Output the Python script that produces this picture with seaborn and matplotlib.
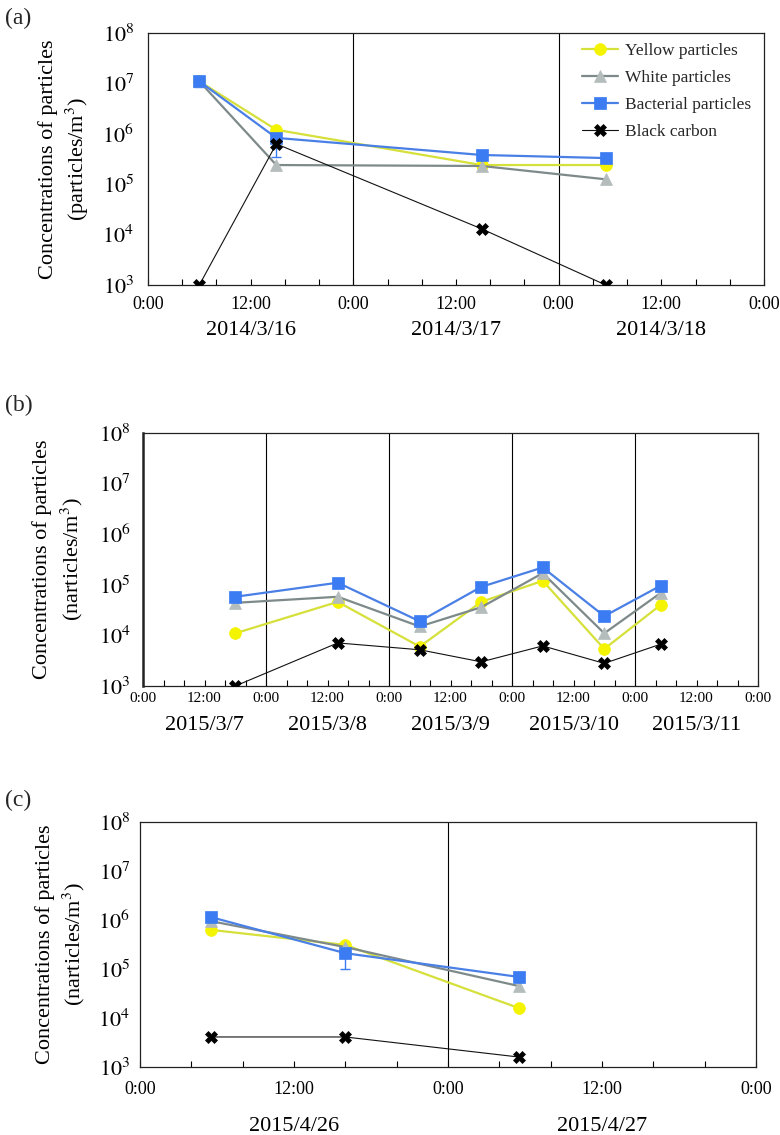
import numpy as np
import pandas as pd
import matplotlib
matplotlib.use("Agg")
import matplotlib.pyplot as plt
import seaborn as sns

sns.set_theme(style="white")
plt.rcParams['font.family'] = ['Liberation Serif', 'DejaVu Serif']
plt.rcParams['mathtext.fontset'] = 'stix'

# ---------------- data ----------------
series_names = ["Yellow particles", "White particles", "Bacterial particles", "Black carbon"]

# panel (a) 2014/3/16-18, hours from 2014/3/16 0:00
a_hours = [6, 15, 39, 53.5]
a_yellow = [1.1e7, 1.2e6, 2.4e5, 2.4e5]
a_white = [1.1e7, 2.4e5, 2.3e5, 1.25e5]
a_bact = [1.1e7, 8.3e5, 3.8e5, 3.3e5]
a_black = [1.0e3, 6.3e5, 1.3e4, 1.0e3]
a_bact_lo = [2.5e6, 4.8e5, 0, 0.5e5]
a_bact_hi = [0, 0, 0, 0.5e5]

# panel (b) 2015/3/7-11, hours from 2015/3/7 0:00
b_hours = [18, 38, 54, 66, 78, 90, 101]
b_yellow = [1.1e4, 4.6e4, 6.0e3, 4.6e4, 1.2e5, 5.4e3, 4.0e4]
b_white = [4.4e4, 5.8e4, 1.5e4, 3.6e4, 1.7e5, 1.1e4, 6.9e4]
b_bact = [5.8e4, 1.1e5, 1.9e4, 9.1e4, 2.2e5, 2.4e4, 9.6e4]
b_black = [1.0e3, 7.1e3, 5.2e3, 3.0e3, 6.2e3, 2.8e3, 6.7e3]

# panel (c) 2015/4/26-27, hours from 2015/4/26 0:00
c_hours = [5.5, 16, 29.5]
c_yellow = [6.3e5, 3.1e5, 1.6e4]
c_white = [9.5e5, 2.8e5, 4.5e4]
c_bact = [1.15e6, 2.1e5, 6.9e4]
c_black = [4.1e3, 4.1e3, 1.6e3]
c_bact_lo = [0, 1.1e5, 0]
c_bact_hi = [2.5e5, 0, 0]

a_dates = ["2014/3/16", "2014/3/17", "2014/3/18"]
b_dates = ["2015/3/7", "2015/3/8", "2015/3/9", "2015/3/10", "2015/3/11"]
c_dates = ["2015/4/26", "2015/4/27"]

# ---------------- styles ----------------
styles = {
    "Yellow particles": dict(color="#d6e03a", mfc="#f4f400", mec="#f4f400", marker="o", lw=1.6, ms=8.5),
    "White particles": dict(color="#7e8a8a", mfc="#b4bcbc", mec="#b4bcbc", marker="^", lw=1.6, ms=8.5),
    "Bacterial particles": dict(color="#4a80e6", mfc="#3b7cf2", mec="#3b7cf2", marker="s", lw=1.6, ms=8),
    "Black carbon": dict(color="#111111", mfc="#000000", mec="#000000", marker="X", lw=0.8, ms=9),
}

fig = plt.figure(figsize=(7.8, 11.35), dpi=100)
W, H = 780.0, 1135.0


def make_ax(left, right, top, bottom):
    return fig.add_axes([left / W, 1 - bottom / H, (right - left) / W, (bottom - top) / H])


axes = [make_ax(148, 764, 33, 285), make_ax(143, 758, 433, 686), make_ax(140, 756, 822, 1067)]

# (hours, values, dates, errors, xmax, unit, x font, x pad, date y, y pad, ylabel x)
panels = [
    (a_hours, [a_yellow, a_white, a_bact, a_black], a_dates, (a_bact_lo, a_bact_hi), 72,
     "(particles/m$^3$)", 13, 8, -0.18, 10, -0.092),
    (b_hours, [b_yellow, b_white, b_bact, b_black], b_dates, None, 120,
     "(narticles/m$^3$)", 11, 4.5, -0.157, 9, -0.095),
    (c_hours, [c_yellow, c_white, c_bact, c_black], c_dates, (c_bact_lo, c_bact_hi), 48,
     "(narticles/m$^3$)", 13, 10, -0.243, 7, -0.086),
]

for i, (ax, panel) in enumerate(zip(axes, panels)):
    hours, vals, dates, err, xmax, unit, xfs, xpad, dy, ypad, ylx = panel
    ndays = len(dates)
    for name, v in zip(series_names, vals):
        st = styles[name]
        df = pd.DataFrame({"h": hours, "v": v})
        sns.lineplot(data=df, x="h", y="v", ax=ax, color=st["color"], lw=st["lw"],
                     marker=st["marker"], markersize=st["ms"], markerfacecolor=st["mfc"],
                     markeredgecolor=st["mec"], markeredgewidth=0.5, label=name,
                     zorder=5 if name == "Black carbon" else 3, legend=False)
        if name == "Bacterial particles" and err is not None:
            lo, hi = err
            ax.errorbar(hours, v, yerr=[lo, hi], fmt="none", ecolor="#3b7cf2",
                        elinewidth=1.0, capsize=3.5, capthick=1.0, zorder=2)
    ax.set_yscale("log")
    ax.set_ylim(1e3, 1e8)
    ax.set_xlim(0, xmax)
    ax.set_yticks([10.0 ** k for k in range(3, 9)])
    ax.set_yticklabels([f"$10^{{{k}}}$" for k in range(3, 9)], fontsize=16)
    ax.yaxis.set_minor_locator(matplotlib.ticker.NullLocator())
    ax.tick_params(axis="y", length=0, pad=ypad, labelcolor="black")
    ticks = np.arange(0, xmax + 0.1, 4)
    ax.set_xticks(ticks)
    ax.set_xticklabels([("0:00" if t % 24 == 0 else "12:00") if t % 12 == 0 else "" for t in ticks],
                       fontsize=xfs)
    ax.tick_params(axis="x", direction="in", length=4.5, width=0.8, color="black",
                   pad=xpad, bottom=True, labelcolor="black")
    ax.set_xlabel("")
    ax.set_ylabel("Concentrations of particles\n" + unit, fontsize=16, linespacing=1.3,
                  color="black")
    ax.yaxis.set_label_coords(ylx, 0.5)
    for d in range(1, ndays):
        ax.axvline(24 * d, color="black", lw=0.8, zorder=1)
    for s in ax.spines.values():
        s.set_color("#222222")
        s.set_linewidth(0.9)
        s.set_visible(True)
    if i == 1:
        ax.spines["left"].set_linewidth(1.8)
    ax.grid(False)
    for k, dlabel in enumerate(dates):
        ax.text(24 * k + 12, dy, dlabel, transform=ax.get_xaxis_transform(),
                ha="center", va="center", fontsize=16, color="black")

axes[0].legend(loc="upper left", bbox_to_anchor=(0.704, 0.96), frameon=False, fontsize=12.5,
               handlelength=2.1, labelspacing=0.62, borderpad=0, borderaxespad=0,
               handletextpad=0.4)

fig.text(5 / W, 1 - 18 / H, "(a)", fontsize=17, va="center", ha="left")
fig.text(5 / W, 1 - 405 / H, "(b)", fontsize=17, va="center", ha="left")
fig.text(5 / W, 1 - 800 / H, "(c)", fontsize=17, va="center", ha="left")

fig.savefig("out.png", dpi=100)
